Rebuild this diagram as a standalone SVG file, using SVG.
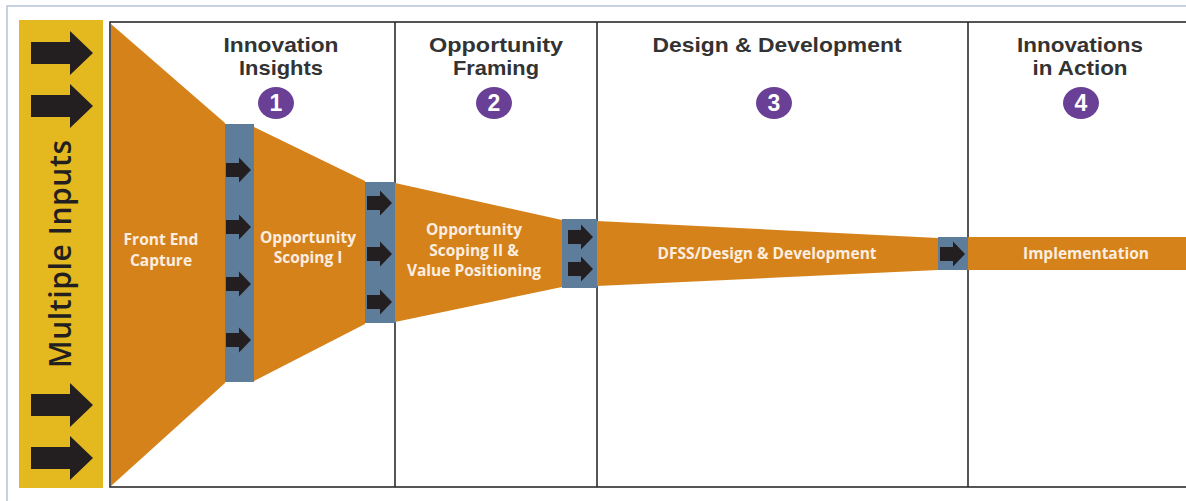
<svg xmlns="http://www.w3.org/2000/svg" xmlns:xlink="http://www.w3.org/1999/xlink" width="1186" height="501" viewBox="0 0 1186 501">
<style>
.funnel{fill:#d6821b}
.bar{fill:#5e7d9a}
.arr{fill:#231f20}
.frame{fill:none;stroke:#2b2b2b;stroke-width:1.6}
.hdr{font-family:"Liberation Sans",Arial,sans-serif;font-weight:bold;font-size:21px;fill:#333;text-anchor:middle}
.num{font-family:"Liberation Sans",sans-serif;font-weight:bold;font-size:23px;fill:#fff;text-anchor:middle}
.lbl{font-family:"Open Sans","Liberation Sans",sans-serif;font-weight:700;font-size:15.5px;fill:#fbeee0;text-anchor:middle}
.badge{fill:#6a3f96}
</style>
<defs>
<path id="bigArrow" d="M0,-11 H39 V-22 L62,0 L39,22 V11 H0 Z"/>
<path id="smArrow" d="M0,-7 H13 V-12.5 L25,0 L13,12.5 V7 H0 Z"/>
</defs>
<rect width="1186" height="501" fill="#fff"/>
<rect x="7" y="6" width="1200" height="520" fill="none" stroke="#b7c2d6" stroke-width="1.5"/>

<g id="inputs">
<rect x="19" y="20" width="84" height="468" fill="#e4b81f"/>
<use xlink:href="#bigArrow" x="31" y="53" class="arr"/>
<use xlink:href="#bigArrow" x="31" y="106" class="arr"/>
<use xlink:href="#bigArrow" x="31" y="405" class="arr"/>
<use xlink:href="#bigArrow" x="31" y="458" class="arr"/>
<text transform="translate(71,254) rotate(-90)" font-family="Open Sans, Liberation Sans, sans-serif" font-size="30" font-weight="600" fill="#231f20" text-anchor="middle" textLength="228">Multiple Inputs</text>
</g>

<g id="frame">
<rect x="110" y="22" width="1100" height="465" class="frame"/>
<line x1="395" y1="22" x2="395" y2="487" class="frame"/>
<line x1="597" y1="22" x2="597" y2="487" class="frame"/>
<line x1="968" y1="22" x2="968" y2="487" class="frame"/>
</g>

<g id="stage-headers">
<text class="hdr" x="281" y="51.5" textLength="115" lengthAdjust="spacingAndGlyphs">Innovation</text>
<text class="hdr" x="281" y="75" textLength="84" lengthAdjust="spacingAndGlyphs">Insights</text>
<ellipse class="badge" cx="276" cy="103" rx="18" ry="16"/>
<text class="num" x="276" y="111">1</text>
<text class="hdr" x="496" y="51.5" textLength="134" lengthAdjust="spacingAndGlyphs">Opportunity</text>
<text class="hdr" x="496" y="75" textLength="86" lengthAdjust="spacingAndGlyphs">Framing</text>
<ellipse class="badge" cx="494" cy="103" rx="18" ry="16"/>
<text class="num" x="494" y="111">2</text>
<text class="hdr" x="777" y="51.5" textLength="249" lengthAdjust="spacingAndGlyphs">Design &amp; Development</text>
<ellipse class="badge" cx="774" cy="103" rx="18" ry="16"/>
<text class="num" x="774" y="111">3</text>
<text class="hdr" x="1080" y="51.5" textLength="126" lengthAdjust="spacingAndGlyphs">Innovations</text>
<text class="hdr" x="1080" y="75" textLength="95" lengthAdjust="spacingAndGlyphs">in Action</text>
<ellipse class="badge" cx="1081" cy="103" rx="18" ry="16"/>
<text class="num" x="1081" y="111">4</text>
</g>

<g id="front-end-capture">
<polygon class="funnel" points="111,24 225,123 225,383 111,486"/>
<text class="lbl" x="161" y="245">Front End<tspan x="161" dy="21">Capture</tspan></text>
</g>

<g id="opportunity-scoping-1">
<polygon class="funnel" points="254,127 365,181 365,324 254,381"/>
<text class="lbl" x="308" y="243">Opportunity<tspan x="308" dy="20">Scoping I</tspan></text>
</g>

<g id="opportunity-scoping-2">
<polygon class="funnel" points="395,183 562,220 562,287 395,322"/>
<text class="lbl" x="474" y="235">Opportunity<tspan x="474" dy="20.5">Scoping II &amp;</tspan><tspan x="474" dy="20.5">Value Positioning</tspan></text>
</g>

<g id="dfss">
<polygon class="funnel" points="597,221 938,238 938,270 597,286"/>
<text class="lbl" x="767" y="259">DFSS/Design &amp; Development</text>
</g>

<g id="implementation">
<rect class="funnel" x="968" y="237" width="220" height="33"/>
<text class="lbl" x="1086" y="259">Implementation</text>
</g>

<g id="connectors">
<rect class="bar" x="225" y="124" width="29" height="258"/>
<use xlink:href="#smArrow" x="226" y="170" class="arr"/>
<use xlink:href="#smArrow" x="226" y="227" class="arr"/>
<use xlink:href="#smArrow" x="226" y="284" class="arr"/>
<use xlink:href="#smArrow" x="226" y="340" class="arr"/>
<rect class="bar" x="365" y="182" width="30" height="141"/>
<use xlink:href="#smArrow" x="367" y="203" class="arr"/>
<use xlink:href="#smArrow" x="367" y="254" class="arr"/>
<use xlink:href="#smArrow" x="367" y="302" class="arr"/>
<rect class="bar" x="562" y="219" width="35" height="69"/>
<use xlink:href="#smArrow" x="568" y="237" class="arr"/>
<use xlink:href="#smArrow" x="568" y="269" class="arr"/>
<rect class="bar" x="938" y="237" width="30" height="33"/>
<use xlink:href="#smArrow" x="940" y="254" class="arr"/>
</g>
</svg>
